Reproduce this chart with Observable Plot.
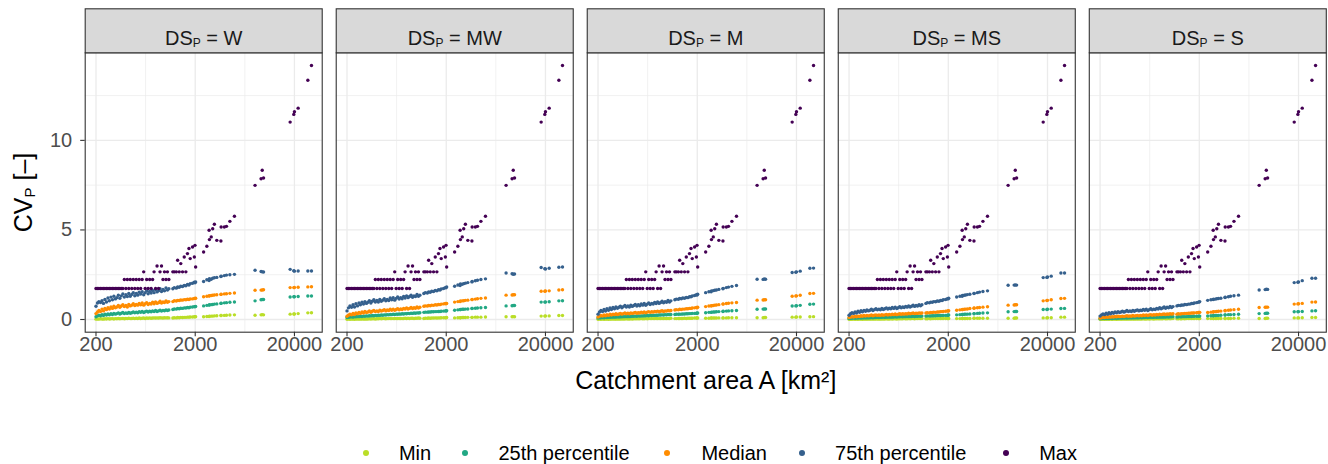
<!DOCTYPE html>
<html><head><meta charset="utf-8">
<script src="https://cdn.jsdelivr.net/npm/d3@7"></script>
<script src="https://cdn.jsdelivr.net/npm/@observablehq/plot@0.6"></script>
<style>
body{margin:0;background:#fff;}
#wrap{position:relative;width:1328px;height:464px;font-family:"Liberation Sans",Arial,sans-serif;}
#legend{position:absolute;left:0;top:440px;width:1328px;height:26px;}
.lk{position:absolute;top:0;height:26px;line-height:26px;font-size:20px;color:#000;white-space:nowrap;}
.ld{position:absolute;border-radius:50%;}
</style></head><body>
<div id="wrap"><div id="chart"></div><div id="legend"></div></div>
<script>
// ---------------- data ----------------
const dsLevels = ["W", "MW", "M", "MS", "S"];
const statLevels = ["Min", "25th percentile", "Median", "75th percentile", "Max"];
const statColors = ["#BADE28", "#22A884", "#FF8C00", "#35608D", "#440154"];
const xTicks = [200, 2000, 20000];
const yTicks = [0, 5, 10];

const areas = [200,207,214,222,230,238,246,255,264,273,283,293,303,314,325,336,348,360,373,386,400,414,428,443,459,475,492,509,527,545,564,584,605,626,648,671,695,719,744,770,797,825,854,884,915,947,980,1015,1050,1085,
 1190,1230,1290,1330,1380,1430,1490,1550,1610,1670,1730,1780,1880,1960,1990,2020,
 2430,2620,2760,2780,2900,3000,3120,3300,3630,3650,3930,4130,4470,4970,
 8020,9220,9470,9760,18100,19700,20000,21800,27300,29700];

const maxCV = [1.73,1.73,1.73,1.73,1.73,1.73,1.73,1.73,1.73,1.73,1.73,1.73,1.73,1.73,1.73,1.73,1.73,1.73,1.73,2.23,1.73,2.23,1.73,2.23,1.73,2.23,1.73,2.23,1.73,2.23,1.73,2.23,2.66,1.73,2.23,1.73,2.23,1.73,2.23,2.66,1.73,2.99,1.73,2.66,2.99,2.23,2.66,2.23,2.66,2.23,
 2.66,2.66,2.66,3.31,2.66,3.12,2.66,3.49,2.66,3.68,3.96,3.40,4.05,3.49,4.14,2.93,
 3.77,4.09,4.98,4.46,4.61,5.07,5.32,4.42,4.38,5.16,5.16,5.20,5.48,5.76,
 7.49,7.86,8.33,7.90,11.02,11.45,11.60,11.80,13.36,14.18];

// DS = W
const minW = [0.02,0.03,0.02,0.04,0.03,0.02,0.04,0.03,0.05,0.03,0.04,0.05,0.03,0.05,0.04,0.06,0.04,0.05,0.06,0.04,0.06,0.05,0.07,0.05,0.06,0.07,0.05,0.07,0.06,0.08,0.06,0.07,0.08,0.06,0.08,0.07,0.09,0.07,0.08,0.09,0.08,0.09,0.08,0.1,0.09,0.08,0.1,0.09,0.1,0.09,
 0.08,0.1,0.09,0.11,0.1,0.12,0.11,0.12,0.12,0.13,0.13,0.14,0.14,0.15,0.15,0.16,
 0.15,0.17,0.17,0.18,0.19,0.19,0.2,0.21,0.22,0.22,0.23,0.24,0.25,0.26,
 0.24,0.26,0.27,0.26,0.3,0.31,0.31,0.33,0.37,0.38];
const q25W = [0.15,0.2,0.24,0.21,0.27,0.22,0.29,0.25,0.31,0.26,0.32,0.28,0.34,0.3,0.33,0.37,0.31,0.35,0.39,0.33,0.37,0.34,0.4,0.35,0.38,0.42,0.37,0.41,0.38,0.44,0.4,0.45,0.39,0.43,0.47,0.42,0.46,0.43,0.48,0.44,0.5,0.45,0.48,0.52,0.47,0.51,0.49,0.54,0.5,0.53,
 0.56,0.59,0.58,0.61,0.6,0.63,0.62,0.65,0.64,0.67,0.66,0.69,0.7,0.72,0.71,0.73,
 0.76,0.79,0.8,0.82,0.83,0.84,0.86,0.87,0.9,0.91,0.93,0.94,0.96,0.98,
 1.04,1.1,1.12,1.12,1.26,1.27,1.27,1.28,1.31,1.31];
const medW = [0.33,0.42,0.5,0.45,0.58,0.48,0.62,0.55,0.66,0.58,0.7,0.62,0.74,0.66,0.7,0.78,0.68,0.75,0.82,0.72,0.78,0.7,0.84,0.76,0.8,0.88,0.78,0.84,0.8,0.9,0.82,0.92,0.8,0.88,0.94,0.84,0.9,0.86,0.96,0.88,0.98,0.9,0.94,1.02,0.92,0.98,0.95,1.04,0.96,1.0,
 1.0,1.05,1.03,1.07,1.06,1.09,1.08,1.11,1.1,1.13,1.12,1.15,1.15,1.18,1.17,1.19,
 1.27,1.3,1.31,1.33,1.34,1.35,1.37,1.38,1.4,1.41,1.43,1.44,1.46,1.48,
 1.63,1.64,1.65,1.66,1.78,1.78,1.79,1.8,1.82,1.83];
const q75W = [0.74,0.92,1.0,0.95,1.05,0.9,1.12,0.98,1.2,1.05,1.25,1.1,1.3,1.15,1.22,1.35,1.18,1.32,1.42,1.25,1.38,1.28,1.45,1.3,1.4,1.5,1.33,1.46,1.36,1.52,1.42,1.55,1.38,1.5,1.6,1.44,1.56,1.48,1.62,1.5,1.66,1.54,1.6,1.72,1.56,1.68,1.6,1.76,1.64,1.72,
 1.72,1.78,1.75,1.82,1.8,1.86,1.84,1.9,1.88,1.95,1.93,2.0,2.02,2.08,2.05,2.1,
 2.12,2.22,2.18,2.28,2.25,2.3,2.33,2.35,2.4,2.42,2.45,2.48,2.5,2.52,
 2.75,2.68,2.66,2.65,2.8,2.72,2.7,2.71,2.71,2.71];

// DS = MW
const minMW = [0.01,0.02,0.01,0.02,0.02,0.01,0.03,0.02,0.03,0.02,0.03,0.03,0.02,0.03,0.03,0.04,0.03,0.04,0.04,0.03,0.04,0.04,0.05,0.04,0.05,0.05,0.04,0.05,0.05,0.06,0.05,0.05,0.06,0.05,0.06,0.06,0.06,0.05,0.06,0.07,0.06,0.07,0.06,0.07,0.07,0.06,0.07,0.07,0.08,0.07,
 0.06,0.07,0.07,0.08,0.07,0.08,0.08,0.09,0.08,0.09,0.09,0.1,0.1,0.1,0.1,0.11,
 0.09,0.1,0.1,0.1,0.11,0.11,0.11,0.12,0.12,0.12,0.13,0.13,0.13,0.14,
 0.15,0.15,0.16,0.15,0.19,0.19,0.2,0.2,0.22,0.22];
const q25MW = [0.11,0.12,0.14,0.15,0.13,0.16,0.15,0.17,0.16,0.18,0.17,0.19,0.18,0.2,0.19,0.21,0.2,0.22,0.21,0.23,0.22,0.24,0.23,0.25,0.24,0.26,0.25,0.27,0.26,0.28,0.27,0.29,0.28,0.3,0.29,0.31,0.3,0.32,0.31,0.33,0.32,0.34,0.33,0.35,0.34,0.36,0.35,0.37,0.36,0.38,
 0.4,0.41,0.41,0.42,0.42,0.43,0.43,0.44,0.44,0.45,0.45,0.46,0.47,0.48,0.48,0.49,
 0.52,0.54,0.55,0.56,0.57,0.57,0.58,0.59,0.61,0.62,0.63,0.64,0.66,0.67,
 0.76,0.77,0.78,0.78,0.97,0.97,0.98,0.99,1.04,1.05];
const medMW = [0.18,0.24,0.3,0.26,0.34,0.28,0.37,0.32,0.4,0.34,0.42,0.36,0.45,0.39,0.42,0.48,0.4,0.46,0.5,0.44,0.48,0.44,0.52,0.47,0.5,0.55,0.48,0.53,0.5,0.57,0.52,0.58,0.51,0.56,0.6,0.54,0.59,0.56,0.62,0.58,0.65,0.59,0.62,0.67,0.61,0.66,0.63,0.7,0.64,0.68,
 0.74,0.76,0.75,0.78,0.77,0.8,0.79,0.82,0.81,0.84,0.83,0.86,0.87,0.89,0.88,0.9,
 0.97,1.0,1.0,1.03,1.04,1.05,1.07,1.08,1.11,1.12,1.14,1.16,1.18,1.2,
 1.36,1.37,1.38,1.38,1.58,1.58,1.59,1.6,1.65,1.66];
const q75MW = [0.48,0.65,0.75,0.68,0.82,0.7,0.88,0.76,0.92,0.82,0.96,0.86,1.0,0.9,0.96,1.05,0.92,1.02,1.1,0.98,1.06,0.98,1.12,1.02,1.08,1.16,1.04,1.12,1.06,1.2,1.1,1.22,1.08,1.18,1.26,1.14,1.22,1.16,1.28,1.2,1.32,1.22,1.28,1.36,1.24,1.32,1.28,1.4,1.3,1.36,
 1.45,1.5,1.48,1.54,1.52,1.58,1.56,1.62,1.6,1.66,1.65,1.7,1.73,1.78,1.77,1.82,
 1.86,1.93,1.9,1.98,1.97,2.0,2.03,2.06,2.1,2.12,2.16,2.19,2.23,2.27,
 2.6,2.55,2.53,2.54,2.9,2.84,2.82,2.86,2.92,2.93];

// DS = M
const minM = [0.01,0.02,0.01,0.02,0.01,0.02,0.02,0.01,0.02,0.02,0.03,0.02,0.02,0.03,0.02,0.03,0.03,0.03,0.03,0.04,0.03,0.03,0.04,0.03,0.04,0.04,0.04,0.04,0.04,0.05,0.04,0.04,0.05,0.04,0.05,0.05,0.05,0.05,0.05,0.06,0.05,0.05,0.06,0.05,0.06,0.06,0.06,0.06,0.06,0.07,
 0.05,0.05,0.06,0.06,0.06,0.06,0.07,0.06,0.07,0.07,0.07,0.07,0.08,0.08,0.08,0.08,
 0.07,0.07,0.08,0.08,0.08,0.08,0.08,0.09,0.09,0.09,0.09,0.1,0.1,0.1,
 0.1,0.1,0.11,0.11,0.13,0.13,0.14,0.14,0.15,0.16];
const q25M = [0.08,0.09,0.1,0.11,0.1,0.12,0.11,0.12,0.12,0.13,0.13,0.14,0.13,0.15,0.14,0.15,0.15,0.16,0.16,0.17,0.16,0.17,0.17,0.18,0.18,0.19,0.18,0.2,0.19,0.2,0.2,0.21,0.21,0.22,0.21,0.23,0.22,0.23,0.23,0.24,0.24,0.25,0.25,0.26,0.25,0.27,0.26,0.28,0.27,0.28,
 0.28,0.29,0.29,0.3,0.3,0.31,0.31,0.32,0.32,0.33,0.33,0.34,0.34,0.35,0.35,0.36,
 0.38,0.4,0.4,0.41,0.42,0.42,0.43,0.44,0.45,0.46,0.47,0.48,0.49,0.5,
 0.57,0.58,0.59,0.59,0.75,0.76,0.77,0.79,0.85,0.86];
const medM = [0.14,0.18,0.22,0.19,0.25,0.21,0.27,0.23,0.29,0.25,0.3,0.27,0.32,0.28,0.31,0.34,0.3,0.33,0.36,0.32,0.35,0.32,0.37,0.34,0.36,0.39,0.35,0.38,0.36,0.41,0.38,0.42,0.37,0.41,0.44,0.4,0.43,0.41,0.45,0.43,0.47,0.43,0.46,0.49,0.45,0.48,0.47,0.51,0.48,0.5,
 0.53,0.55,0.54,0.57,0.56,0.58,0.58,0.6,0.6,0.62,0.62,0.64,0.65,0.67,0.66,0.68,
 0.72,0.75,0.76,0.77,0.78,0.8,0.81,0.83,0.86,0.87,0.89,0.91,0.93,0.95,
 1.08,1.09,1.1,1.1,1.3,1.31,1.32,1.35,1.45,1.46];
const q75M = [0.3,0.42,0.5,0.45,0.56,0.47,0.6,0.52,0.64,0.56,0.67,0.6,0.7,0.63,0.68,0.74,0.65,0.72,0.78,0.7,0.76,0.7,0.8,0.73,0.78,0.84,0.75,0.82,0.77,0.87,0.8,0.89,0.79,0.86,0.92,0.84,0.9,0.86,0.95,0.89,0.98,0.9,0.95,1.02,0.93,1.0,0.96,1.06,0.98,1.04,
 1.1,1.14,1.13,1.17,1.16,1.2,1.19,1.23,1.22,1.27,1.27,1.31,1.34,1.38,1.37,1.41,
 1.5,1.55,1.55,1.6,1.61,1.63,1.65,1.68,1.72,1.74,1.78,1.81,1.85,1.9,
 2.25,2.24,2.26,2.25,2.62,2.64,2.66,2.7,2.86,2.87];

// DS = MS
const minMS = [0.01,0.01,0.01,0.02,0.01,0.02,0.01,0.02,0.02,0.01,0.02,0.02,0.02,0.02,0.03,0.02,0.03,0.02,0.03,0.03,0.02,0.03,0.03,0.03,0.03,0.04,0.03,0.03,0.04,0.03,0.04,0.04,0.03,0.04,0.04,0.04,0.04,0.05,0.04,0.04,0.05,0.04,0.05,0.05,0.04,0.05,0.05,0.05,0.05,0.05,
 0.04,0.04,0.05,0.04,0.05,0.05,0.05,0.05,0.05,0.06,0.05,0.06,0.06,0.06,0.06,0.06,
 0.05,0.05,0.06,0.06,0.06,0.06,0.06,0.06,0.07,0.07,0.07,0.07,0.07,0.07,
 0.07,0.07,0.08,0.08,0.09,0.09,0.1,0.1,0.13,0.13];
const q25MS = [0.06,0.07,0.07,0.08,0.07,0.08,0.08,0.09,0.08,0.09,0.09,0.1,0.09,0.1,0.1,0.11,0.1,0.11,0.11,0.12,0.11,0.12,0.12,0.13,0.12,0.13,0.13,0.14,0.13,0.14,0.14,0.15,0.14,0.15,0.15,0.16,0.15,0.16,0.16,0.17,0.16,0.17,0.17,0.18,0.17,0.18,0.18,0.19,0.18,0.19,
 0.19,0.2,0.2,0.2,0.21,0.21,0.21,0.22,0.22,0.22,0.23,0.23,0.23,0.24,0.24,0.25,
 0.26,0.27,0.28,0.28,0.29,0.3,0.3,0.31,0.32,0.33,0.34,0.35,0.36,0.37,
 0.43,0.44,0.45,0.45,0.56,0.56,0.57,0.58,0.61,0.62];
const medMS = [0.11,0.13,0.16,0.14,0.18,0.15,0.19,0.17,0.21,0.18,0.22,0.19,0.23,0.2,0.22,0.25,0.21,0.24,0.26,0.23,0.25,0.23,0.27,0.24,0.26,0.28,0.25,0.28,0.26,0.3,0.27,0.31,0.27,0.3,0.32,0.29,0.32,0.3,0.33,0.31,0.35,0.32,0.34,0.36,0.33,0.35,0.34,0.37,0.35,0.36,
 0.36,0.38,0.37,0.39,0.39,0.41,0.4,0.42,0.42,0.44,0.44,0.45,0.46,0.48,0.47,0.49,
 0.52,0.54,0.55,0.56,0.57,0.58,0.59,0.61,0.63,0.64,0.66,0.67,0.69,0.71,
 0.8,0.81,0.82,0.82,1.04,1.06,1.07,1.1,1.17,1.18];
const q75MS = [0.24,0.32,0.38,0.34,0.42,0.36,0.46,0.4,0.49,0.43,0.51,0.46,0.54,0.48,0.52,0.57,0.5,0.55,0.6,0.54,0.58,0.54,0.62,0.56,0.6,0.65,0.58,0.63,0.6,0.67,0.62,0.69,0.61,0.66,0.71,0.65,0.7,0.67,0.73,0.69,0.76,0.7,0.74,0.8,0.73,0.78,0.75,0.83,0.77,0.82,
 0.9,0.94,0.93,0.97,0.96,1.0,0.99,1.03,1.02,1.06,1.06,1.1,1.12,1.16,1.15,1.19,
 1.26,1.3,1.3,1.34,1.35,1.37,1.39,1.41,1.45,1.46,1.5,1.53,1.56,1.6,
 1.91,1.92,1.93,1.92,2.34,2.35,2.37,2.42,2.6,2.6];

// DS = S
const minS = [0.01,0.01,0.01,0.01,0.01,0.02,0.01,0.02,0.01,0.02,0.02,0.01,0.02,0.02,0.02,0.02,0.03,0.02,0.02,0.03,0.02,0.03,0.03,0.02,0.03,0.03,0.03,0.03,0.03,0.04,0.03,0.03,0.04,0.03,0.04,0.04,0.03,0.04,0.04,0.04,0.04,0.04,0.04,0.05,0.04,0.04,0.05,0.04,0.05,0.05,
 0.04,0.04,0.04,0.04,0.05,0.04,0.05,0.05,0.05,0.05,0.05,0.05,0.05,0.06,0.06,0.06,
 0.05,0.05,0.05,0.05,0.05,0.06,0.06,0.06,0.06,0.06,0.06,0.06,0.07,0.07,
 0.06,0.06,0.07,0.07,0.09,0.09,0.09,0.1,0.11,0.11];
const q25S = [0.04,0.05,0.05,0.06,0.05,0.06,0.06,0.07,0.06,0.07,0.07,0.07,0.07,0.08,0.08,0.08,0.08,0.09,0.08,0.09,0.09,0.1,0.09,0.1,0.1,0.1,0.1,0.11,0.1,0.11,0.11,0.12,0.11,0.12,0.12,0.12,0.12,0.13,0.12,0.13,0.13,0.14,0.13,0.14,0.14,0.15,0.14,0.15,0.15,0.16,
 0.14,0.15,0.15,0.15,0.16,0.16,0.16,0.17,0.17,0.17,0.18,0.18,0.18,0.19,0.19,0.19,
 0.2,0.21,0.21,0.22,0.22,0.23,0.23,0.24,0.25,0.26,0.27,0.27,0.28,0.29,
 0.33,0.34,0.35,0.35,0.43,0.43,0.44,0.45,0.48,0.49];
const medS = [0.08,0.1,0.12,0.11,0.14,0.12,0.15,0.13,0.16,0.14,0.17,0.15,0.18,0.16,0.17,0.19,0.17,0.19,0.21,0.18,0.2,0.18,0.22,0.19,0.21,0.23,0.2,0.23,0.21,0.25,0.22,0.26,0.22,0.25,0.27,0.24,0.27,0.25,0.28,0.26,0.3,0.27,0.29,0.31,0.28,0.31,0.29,0.33,0.3,0.32,
 0.3,0.32,0.31,0.33,0.33,0.34,0.34,0.35,0.35,0.36,0.36,0.37,0.38,0.39,0.39,0.4,
 0.39,0.41,0.42,0.43,0.44,0.45,0.46,0.47,0.49,0.5,0.52,0.53,0.55,0.57,
 0.67,0.68,0.69,0.69,0.86,0.87,0.88,0.9,0.97,0.98];
const q75S = [0.19,0.26,0.31,0.27,0.35,0.29,0.38,0.32,0.4,0.35,0.42,0.37,0.44,0.39,0.42,0.47,0.41,0.45,0.5,0.44,0.48,0.44,0.51,0.46,0.5,0.54,0.48,0.52,0.5,0.56,0.52,0.57,0.5,0.55,0.6,0.54,0.58,0.56,0.62,0.58,0.66,0.6,0.64,0.7,0.63,0.68,0.65,0.73,0.67,0.72,
 0.76,0.79,0.78,0.81,0.8,0.84,0.83,0.86,0.86,0.89,0.89,0.92,0.94,0.97,0.97,1.0,
 1.07,1.1,1.11,1.13,1.14,1.16,1.17,1.19,1.23,1.24,1.27,1.3,1.33,1.36,
 1.65,1.67,1.69,1.68,2.06,2.08,2.1,2.17,2.3,2.3];

// --------------- table for Plot ---------------
const seriesByDs = {
  W: [minW, q25W, medW, q75W, maxCV],
  MW: [minMW, q25MW, medMW, q75MW, maxCV],
  M: [minM, q25M, medM, q75M, maxCV],
  MS: [minMS, q25MS, medMS, q75MS, maxCV],
  S: [minS, q25S, medS, q75S, maxCV]
};
const rows = [];
for (const ds of dsLevels) {
  statLevels.forEach((stat, k) => {
    const vals = seriesByDs[ds][k];
    areas.forEach((a, i) => rows.push({ds, stat, area: a, cv: vals[i]}));
  });
}

// --------------- layout ---------------
const W = 1328, H = 440;
const mL = 84.7, mR = 2.2, mT = 52.3, panelBottom = 331.7;
const panelH = panelBottom - mT;

const chart = Plot.plot({
  width: W, height: H,
  marginLeft: mL, marginRight: mR, marginTop: mT, marginBottom: H - panelBottom,
  style: {fontFamily: "Liberation Sans, Arial, sans-serif", fontSize: "20px", color: "#4D4D4D", background: "#fff", overflow: "visible"},
  fx: {domain: dsLevels, paddingInner: 0.0558, paddingOuter: 0, round: false, axis: null, label: null},
  x: {type: "log", domain: [155.7, 38100]},
  y: {domain: [-0.709, 14.889]},
  color: {domain: statLevels, range: statColors},
  marks: [
    Plot.gridX([632.5, 6325], {stroke: "#EBEBEB", strokeOpacity: 1, strokeWidth: 0.7}),
    Plot.gridY([2.5, 7.5, 12.5], {stroke: "#EBEBEB", strokeOpacity: 1, strokeWidth: 0.7}),
    Plot.gridX(xTicks, {stroke: "#EBEBEB", strokeOpacity: 1, strokeWidth: 1.3}),
    Plot.gridY(yTicks, {stroke: "#EBEBEB", strokeOpacity: 1, strokeWidth: 1.3}),
    Plot.dot(rows, {fx: "ds", x: "area", y: "cv", fill: "stat", r: 1.7}),
    Plot.frame({stroke: "#333333", strokeWidth: 1.1}),
    Plot.frame({fill: "#D9D9D9", stroke: "#333333", strokeWidth: 1.1, insetTop: -44, insetBottom: panelH}),
    Plot.text(dsLevels, {fx: d => d, text: d => "DS_P = " + d, frameAnchor: "top", dy: -22, fill: "#1A1A1A", fontSize: 20}),
    Plot.axisX({ticks: xTicks, tickFormat: d => String(d), tickSize: 4.5, tickPadding: 0, stroke: "#333333", strokeWidth: 1.1,
      label: "Catchment area A [km²]", labelAnchor: "center", labelOffset: 56.6}),
    Plot.axisY({ticks: yTicks, tickSize: 4.5, tickPadding: 8.5, stroke: "#333333", strokeWidth: 1.1,
      label: "CV_P [–]", labelAnchor: "center", labelOffset: 70.5})
  ]
});
document.getElementById("chart").appendChild(chart);

// subscripts in texts (DS_P, CV_P)
const NS = "http://www.w3.org/2000/svg";
function subscript(el, pre, sub, post, subSize, shift) {
  while (el.firstChild) el.removeChild(el.firstChild);
  const a = document.createElementNS(NS, "tspan"); a.textContent = pre;
  const b = document.createElementNS(NS, "tspan"); b.textContent = sub;
  b.setAttribute("font-size", subSize); b.setAttribute("dy", shift);
  const c = document.createElementNS(NS, "tspan"); c.textContent = post;
  c.setAttribute("dy", -shift);
  el.setAttribute("style", "white-space:pre");
  el.append(a, b, c);
}
chart.querySelectorAll("text").forEach(t => {
  const s = t.textContent;
  if (s.startsWith("DS_P = ")) {
    subscript(t, "DS", "P", " = " + s.slice(7), 12, 2);
  } else if (s.includes("CV_P")) {
    t.setAttribute("font-size", 25); t.setAttribute("fill", "#000");
    subscript(t, "CV", "P", " [–]", 15, 2.5);
  } else if (s.includes("Catchment")) {
    t.textContent = "Catchment area A [km²]";
    t.setAttribute("font-size", 25); t.setAttribute("fill", "#000");
  }
});

// legend
const legendDots = [365.7, 465.2, 666.7, 801.9, 1006];
const legendTexts = [398.9, 498.4, 701.4, 835.1, 1039.2];
const lg = document.getElementById("legend");
statLevels.forEach((s, i) => {
  const d = document.createElement("div");
  d.className = "ld";
  const r = 3.2;
  d.style.cssText = `left:${legendDots[i] - r}px;top:${13 - r}px;width:${2 * r}px;height:${2 * r}px;background:${statColors[i]}`;
  lg.appendChild(d);
  const t = document.createElement("div");
  t.className = "lk"; t.style.left = legendTexts[i] + "px"; t.textContent = s;
  lg.appendChild(t);
});
</script>
</body></html>
